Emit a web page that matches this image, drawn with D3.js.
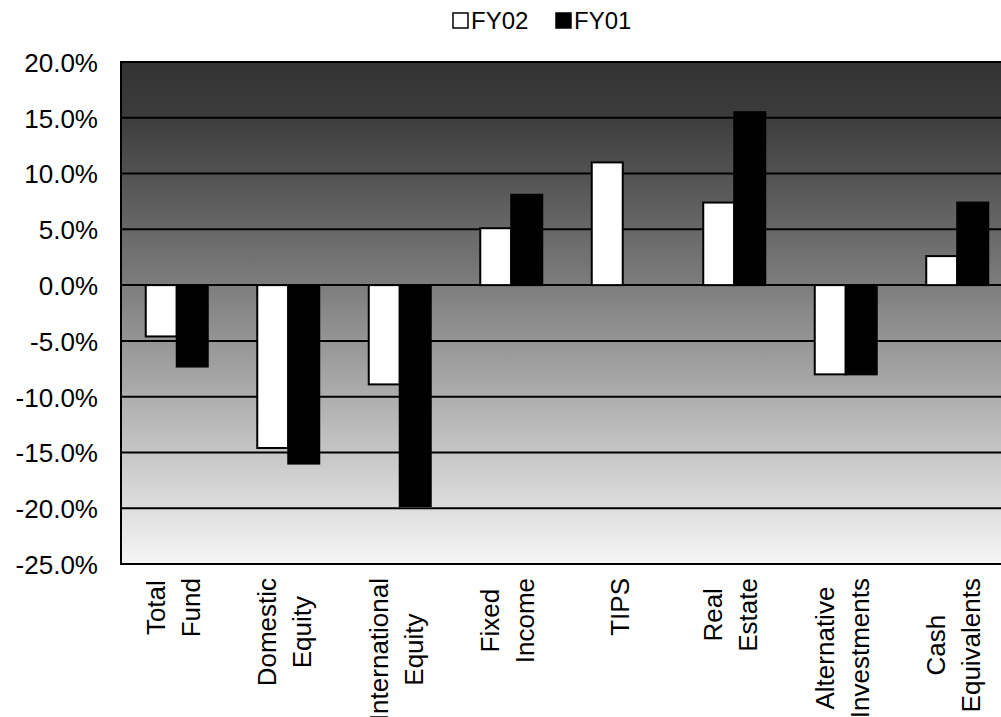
<!DOCTYPE html>
<html>
<head>
<meta charset="utf-8">
<script src="https://cdn.jsdelivr.net/npm/d3@7"></script>
<style>
  html, body { margin: 0; padding: 0; background: #fff; }
  svg { display: block; font-family: "Liberation Sans", Arial, sans-serif; }
</style>
</head>
<body>
<svg id="chart" width="1001" height="717"></svg>
<script>
// Asset-class returns, fiscal years 2002 and 2001 (percent)
const categories = ["Total Fund", "Domestic Equity", "International Equity", "Fixed Income",
                    "TIPS", "Real Estate", "Alternative Investments", "Cash Equivalents"];
const labelLines = [["Total", "Fund"], ["Domestic", "Equity"], ["International", "Equity"],
                    ["Fixed", "Income"], ["TIPS"], ["Real", "Estate"],
                    ["Alternative", "Investments"], ["Cash", "Equivalents"]];
const seriesNames = ["FY02", "FY01"];
const fy02 = [-4.6, -14.6, -8.9, 5.1, 11.0, 7.4, -8.0, 2.6];
const fy01 = [-7.3, -16.0, -19.8, 8.1, null, 15.5, -8.0, 7.4];
const yTicks = [20, 15, 10, 5, 0, -5, -10, -15, -20, -25];

const seriesValues = { FY02: fy02, FY01: fy01 };
const seriesFill = { FY02: "#ffffff", FY01: "#000000" };

const svg = d3.select("#chart");
const plot = { left: 121, top: 62, bottom: 564, right: 1013 };

const y = d3.scaleLinear().domain([-25, 20]).range([plot.bottom, plot.top]);
const x0 = d3.scaleBand().domain(categories).range([plot.left, plot.right])
  .paddingInner(0.444).paddingOuter(0.222);
const x1 = d3.scaleBand().domain(seriesNames).range([0, x0.bandwidth()]);

// Plot-area background: dark-to-light vertical gradient
const defs = svg.append("defs");
const grad = defs.append("linearGradient").attr("id", "bg")
  .attr("x1", 0).attr("y1", 0).attr("x2", 0).attr("y2", 1);
grad.append("stop").attr("offset", 0).attr("stop-color", "#333333");
grad.append("stop").attr("offset", 0.1).attr("stop-color", "#3b3b3b");
grad.append("stop").attr("offset", 0.44).attr("stop-color", "#7c7c7c");
grad.append("stop").attr("offset", 1).attr("stop-color", "#f6f6f6");

svg.append("rect")
  .attr("x", plot.left).attr("y", plot.top)
  .attr("width", plot.right - plot.left).attr("height", plot.bottom - plot.top)
  .attr("fill", "url(#bg)");

// Gridlines
svg.append("g").selectAll("line").data(yTicks).join("line")
  .attr("x1", plot.left).attr("x2", plot.right)
  .attr("y1", d => y(d)).attr("y2", d => y(d))
  .attr("stroke", "#000").attr("stroke-width", 2);

// Y axis labels (plain hyphen for negatives)
const yAxis = d3.axisLeft(y).tickValues(yTicks)
  .tickFormat(d => d.toFixed(1) + "%").tickSize(0).tickPadding(0);
const yg = svg.append("g").attr("transform", `translate(98,0)`).call(yAxis);
yg.select(".domain").remove();
yg.selectAll("text").attr("font-size", 26).attr("fill", "#000")
  .attr("font-family", "Liberation Sans, Arial, sans-serif").attr("dy", "0.36em");

// Bars
const groups = svg.append("g").selectAll("g").data(categories).join("g")
  .attr("transform", d => `translate(${x0(d)},0)`);
groups.selectAll("rect")
  .data((c, i) => seriesNames.map(s => ({ s, v: seriesValues[s][i] })).filter(d => d.v !== null))
  .join("rect")
  .attr("x", d => x1(d.s))
  .attr("width", x1.bandwidth())
  .attr("y", d => y(Math.max(0, d.v)))
  .attr("height", d => Math.abs(y(d.v) - y(0)))
  .attr("fill", d => seriesFill[d.s])
  .attr("stroke", "#000").attr("stroke-width", 2);

// Plot frame
svg.append("rect")
  .attr("x", plot.left).attr("y", plot.top)
  .attr("width", plot.right - plot.left).attr("height", plot.bottom - plot.top)
  .attr("fill", "none").attr("stroke", "#000").attr("stroke-width", 2);

// Category labels, rotated, lines centred on each other below the axis
const labelTop = 578;
categories.forEach((c, i) => {
  const lines = labelLines[i];
  const cx = x0(c) + x0.bandwidth() / 2;
  const g = svg.append("g").attr("transform", `translate(${cx},${labelTop}) rotate(-90)`);
  const offsets = lines.length === 2 ? [-12, 23] : [6];
  const texts = lines.map((t, j) => g.append("text")
    .attr("y", offsets[j]).attr("font-size", 26).attr("fill", "#000")
    .attr("text-anchor", "middle").text(t));
  const maxLen = d3.max(texts, t => t.node().getComputedTextLength());
  texts.forEach(t => t.attr("x", -maxLen / 2));
});

// Legend
const legend = svg.append("g");
const legendItems = [{ s: "FY02", x: 452 }, { s: "FY01", x: 555 }];
legendItems.forEach(it => {
  legend.append("rect").attr("x", it.x + 1).attr("y", 13).attr("width", 15).attr("height", 15)
    .attr("fill", seriesFill[it.s]).attr("stroke", "#000").attr("stroke-width", 1.5);
  legend.append("text").attr("x", it.x + 19).attr("y", 29)
    .attr("font-size", 24).attr("fill", "#000").text(it.s);
});
</script>
</body>
</html>
